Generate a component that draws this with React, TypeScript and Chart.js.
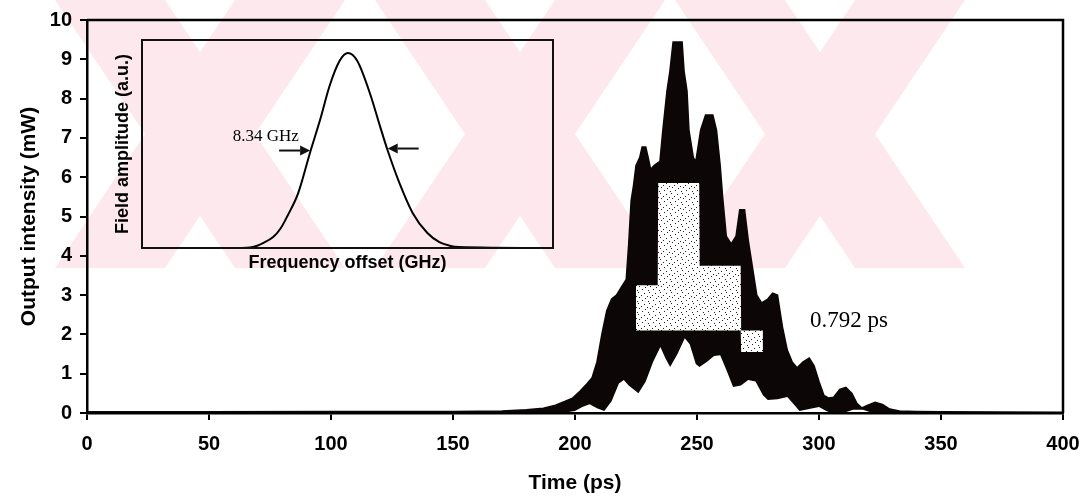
import React, { useEffect, useRef } from 'react';
import { Chart, registerables } from 'chart.js';

Chart.register(...registerables);

const SANS = "'Liberation Sans', Arial, Helvetica, sans-serif";
const SERIF = "'Liberation Serif', 'Times New Roman', serif";

// ---- main plot: upper envelope of the output intensity (black) ----
const upperTime = [0, 50, 100, 150, 170, 180, 187, 192, 196, 199, 202, 205, 207, 209, 211, 213, 215, 217, 219, 221, 222, 223, 224, 225, 226.5, 227.5, 229, 230, 231, 232.5, 234.8, 236, 237.7, 238.9, 240.2, 243.9, 244.7, 245.9, 246.7, 248.5, 249.5, 250.5, 251.5, 253.5, 256.5, 258, 259.5, 260.5, 262, 264, 266, 267.5, 269.5, 271, 272.5, 274.5, 276.5, 279, 281, 283, 285, 287, 289, 291, 293.5, 296, 298, 300, 302, 304, 306, 308.5, 311, 313.5, 315.5, 317.5, 320, 323, 326, 329, 333, 340, 350, 400];
const upperPower = [0.03, 0.03, 0.04, 0.04, 0.05, 0.08, 0.12, 0.2, 0.3, 0.38, 0.55, 0.75, 0.9, 1.3, 2.0, 2.6, 2.9, 3.0, 3.2, 3.4, 4.3, 5.4, 5.8, 6.3, 6.5, 6.77, 6.77, 6.5, 6.2, 6.3, 6.4, 7.2, 8.2, 8.7, 9.44, 9.44, 8.7, 8.2, 7.2, 6.5, 6.4, 6.8, 7.2, 7.58, 7.58, 7.2, 6.3, 5.5, 4.5, 4.3, 4.5, 5.17, 5.17, 4.4, 3.8, 3.0, 2.8, 2.9, 3.05, 3.0, 2.2, 1.6, 1.3, 1.15, 1.3, 1.4, 1.2, 0.8, 0.45, 0.38, 0.4, 0.6, 0.65, 0.5, 0.25, 0.13, 0.2, 0.27, 0.22, 0.1, 0.05, 0.04, 0.03, 0.02];

// ---- lower envelope (white region under the oscillations) ----
const lowerTime = [0, 195, 200, 203, 206, 209, 212, 215, 218, 220, 222, 226, 229, 232, 235, 237, 239, 242, 245, 247, 249.5, 251, 254, 257, 259.5, 262, 264.8, 268, 271, 274, 277, 279, 283, 287, 290, 292, 296, 300, 303, 305, 310, 314, 318, 322, 400];
const lowerPower = [0, 0, 0.05, 0.15, 0.22, 0.12, 0.05, 0.3, 0.75, 0.84, 0.7, 0.5, 0.8, 1.3, 1.68, 1.4, 1.17, 1.5, 1.9, 1.75, 1.25, 1.17, 1.3, 1.45, 1.47, 1.1, 0.66, 0.7, 0.84, 0.8, 0.45, 0.33, 0.35, 0.41, 0.2, 0.05, 0.1, 0.15, 0.05, 0, 0, 0.08, 0.08, 0, 0];

// ---- speckled (dense oscillation) band inside the pulse ----
const speckleTime = [225, 233.9, 234.1, 250.9, 251.1, 267.9, 268.1, 277];
const speckleTop = [3.25, 3.25, 5.85, 5.85, 3.75, 3.75, 2.1, 2.1];
const speckleBottom = [2.1, 2.1, 2.1, 2.1, 2.1, 2.1, 1.55, 1.55];

const xTickValues = [0, 50, 100, 150, 200, 250, 300, 350, 400];
const yTickValues = [0, 1, 2, 3, 4, 5, 6, 7, 8, 9, 10];

// ---- inset: field amplitude spectrum ----
const insetFreq = [-22.3, -12, -10.3, -9.2, -8.1, -7.3, -6.6, -5.4, -4.1, -3.0, -2.0, -0.9, 0, 1.0, 2.4, 3.5, 4.3, 5.6, 7.0, 8.6, 9.9, 11, 12, 22.2];
const insetAmp = [0, 0, 0.005, 0.025, 0.056, 0.1, 0.16, 0.28, 0.49, 0.66, 0.83, 0.96, 1.0, 0.96, 0.79, 0.62, 0.5, 0.33, 0.18, 0.077, 0.03, 0.012, 0.005, 0];
const fwhmEdges = [-4.1, 4.3];
const fwhmLevel = 0.5;
const fwhmLabel = '8.34 GHz';
const fwhmLabelPos = { x: -8.9, y: 0.57 };

const pulseLabel = '0.792 ps';
const pulseLabelPos = { x: 296.3, y: 2.19 };

function pts(xs: number[], ys: number[]) {
  return xs.map((x, i) => ({ x, y: ys[i] }));
}

function makeSpecklePattern(ctx: CanvasRenderingContext2D) {
  const c = document.createElement('canvas');
  c.width = 11;
  c.height = 11;
  const g = c.getContext('2d')!;
  g.fillStyle = '#ffffff';
  g.fillRect(0, 0, 11, 11);
  g.fillStyle = '#222';
  const dots = [[1, 0], [7, 1], [4, 3], [10, 4], [0, 6], [6, 7], [3, 9], [9, 10]];
  dots.forEach(([x, y]) => g.fillRect(x, y, 1, 1));
  return ctx.createPattern(c, 'repeat') as CanvasPattern;
}

const watermarkPlugin = {
  id: 'watermark',
  beforeDraw(chart: any) {
    const ctx = chart.ctx as CanvasRenderingContext2D;
    const H = 268;
    const run = 90;
    const w = 110;
    ctx.save();
    ctx.beginPath();
    ctx.rect(30, 0, 980, H);
    ctx.clip();
    ctx.fillStyle = '#fde9ed';
    [200, 520, 820].forEach((cx) => {
      ctx.beginPath();
      ctx.moveTo(cx - run - w / 2, 0);
      ctx.lineTo(cx - run + w / 2, 0);
      ctx.lineTo(cx + run + w / 2, H);
      ctx.lineTo(cx + run - w / 2, H);
      ctx.closePath();
      ctx.fill();
      ctx.beginPath();
      ctx.moveTo(cx + run - w / 2, 0);
      ctx.lineTo(cx + run + w / 2, 0);
      ctx.lineTo(cx - run + w / 2, H);
      ctx.lineTo(cx - run - w / 2, H);
      ctx.closePath();
      ctx.fill();
    });
    ctx.restore();
  },
};

const mainDecorPlugin = {
  id: 'mainDecor',
  afterDraw(chart: any) {
    const ctx = chart.ctx as CanvasRenderingContext2D;
    const { left, top, right, bottom } = chart.chartArea;
    ctx.save();
    ctx.strokeStyle = '#000';
    ctx.lineWidth = 2.5;
    ctx.beginPath();
    ctx.moveTo(left, top);
    ctx.lineTo(right, top);
    ctx.lineTo(right, bottom);
    ctx.stroke();
    const xs = chart.scales.x;
    const ys = chart.scales.y;
    ctx.fillStyle = '#000';
    ctx.font = `23px ${SERIF}`;
    ctx.textAlign = 'left';
    ctx.textBaseline = 'alphabetic';
    ctx.fillText(pulseLabel, xs.getPixelForValue(pulseLabelPos.x), ys.getPixelForValue(pulseLabelPos.y));
    ctx.restore();
  },
};

function arrow(ctx: CanvasRenderingContext2D, x0: number, x1: number, y: number) {
  const dir = x1 > x0 ? 1 : -1;
  const head = 10;
  ctx.beginPath();
  ctx.moveTo(x0, y);
  ctx.lineTo(x1 - dir * head, y);
  ctx.stroke();
  ctx.beginPath();
  ctx.moveTo(x1, y);
  ctx.lineTo(x1 - dir * head, y - 5);
  ctx.lineTo(x1 - dir * head, y + 5);
  ctx.closePath();
  ctx.fill();
}

const insetDecorPlugin = {
  id: 'insetDecor',
  afterDraw(chart: any) {
    const ctx = chart.ctx as CanvasRenderingContext2D;
    const { left, top, width, height } = chart.chartArea;
    const xs = chart.scales.x;
    const ys = chart.scales.y;
    ctx.save();
    ctx.strokeStyle = '#111';
    ctx.lineWidth = 2;
    ctx.strokeRect(left, top, width, height);
    ctx.fillStyle = '#111';
    const yA = ys.getPixelForValue(fwhmLevel);
    const lTip = xs.getPixelForValue(fwhmEdges[0]);
    const rTip = xs.getPixelForValue(fwhmEdges[1]);
    arrow(ctx, lTip - 31, lTip, yA);
    arrow(ctx, rTip + 31, rTip, yA - 2);
    ctx.fillStyle = '#000';
    ctx.font = `17px ${SERIF}`;
    ctx.textAlign = 'center';
    ctx.textBaseline = 'middle';
    ctx.fillText(fwhmLabel, xs.getPixelForValue(fwhmLabelPos.x), ys.getPixelForValue(fwhmLabelPos.y));
    ctx.restore();
  },
};

export default function App() {
  const mainRef = useRef<HTMLCanvasElement>(null);
  const insetRef = useRef<HTMLCanvasElement>(null);

  useEffect(() => {
    const mainCtx = mainRef.current!.getContext('2d')!;
    const pattern = makeSpecklePattern(mainCtx);
    const tickFont = { family: SANS, size: 20, weight: 'bold' as const };
    const titleFont = { family: SANS, size: 21, weight: 'bold' as const };

    const main = new Chart(mainCtx, {
      type: 'line',
      data: {
        datasets: [
          {
            data: pts(speckleTime, speckleTop),
            borderWidth: 0,
            borderColor: 'rgba(0,0,0,0)',
            backgroundColor: pattern,
            fill: '+1',
            pointRadius: 0,
          },
          {
            data: pts(speckleTime, speckleBottom),
            borderWidth: 0,
            borderColor: 'rgba(0,0,0,0)',
            fill: false,
            pointRadius: 0,
          },
          {
            data: pts(lowerTime, lowerPower),
            borderWidth: 0,
            borderColor: 'rgba(0,0,0,0)',
            backgroundColor: '#ffffff',
            fill: 'origin',
            pointRadius: 0,
          },
          {
            data: pts(upperTime, upperPower),
            borderWidth: 1.5,
            borderColor: '#0d0606',
            backgroundColor: '#0d0606',
            fill: 'origin',
            pointRadius: 0,
          },
        ],
      },
      options: {
        responsive: false,
        animation: false,
        events: [],
        layout: { padding: { left: 0, right: 27, top: 20, bottom: 0 } },
        elements: { line: { tension: 0 } },
        plugins: {
          legend: { display: false },
          tooltip: { enabled: false },
          filler: { propagate: false },
        },
        scales: {
          x: {
            type: 'linear',
            min: 0,
            max: 400,
            afterBuildTicks: (s: any) => {
              s.ticks = xTickValues.map((v) => ({ value: v }));
            },
            afterFit: (s: any) => {
              s.height = 84;
              s.paddingLeft = 0;
              s.paddingRight = 0;
            },
            ticks: { font: tickFont, color: '#000', padding: 12, maxRotation: 0, autoSkip: false },
            grid: { display: true, drawOnChartArea: false, drawTicks: true, tickLength: 7, color: '#000', lineWidth: 2 },
            border: { display: true, color: '#000', width: 2.5, z: 1 },
            title: { display: true, text: 'Time (ps)', font: titleFont, color: '#000', padding: { top: 0, bottom: 1 } },
          },
          y: {
            type: 'linear',
            min: 0,
            max: 10,
            afterBuildTicks: (s: any) => {
              s.ticks = yTickValues.map((v) => ({ value: v }));
            },
            afterFit: (s: any) => {
              s.width = 87;
              s.paddingTop = 0;
              s.paddingBottom = 0;
            },
            ticks: { font: tickFont, color: '#000', padding: 8, autoSkip: false },
            grid: { display: true, drawOnChartArea: false, drawTicks: true, tickLength: 7, color: '#000', lineWidth: 2 },
            border: { display: true, color: '#000', width: 2.5, z: 1 },
            title: { display: true, text: 'Output intensity (mW)', font: titleFont, color: '#000', padding: { top: 17, bottom: 0 } },
          },
        },
      },
      plugins: [watermarkPlugin, mainDecorPlugin],
    } as any);

    const insetTitleFont = { family: SANS, size: 18, weight: 'bold' as const };
    const inset = new Chart(insetRef.current!, {
      type: 'line',
      data: {
        datasets: [
          {
            data: pts(insetFreq, insetAmp),
            borderColor: '#000',
            borderWidth: 2,
            pointRadius: 0,
            fill: false,
            cubicInterpolationMode: 'monotone',
          },
        ],
      },
      options: {
        responsive: false,
        animation: false,
        events: [],
        layout: { padding: { left: 0, right: 17, top: 10, bottom: 0 } },
        plugins: { legend: { display: false }, tooltip: { enabled: false } },
        scales: {
          x: {
            type: 'linear',
            min: -22.3,
            max: 22.2,
            ticks: { display: false },
            grid: { display: false },
            border: { display: false },
            afterFit: (s: any) => {
              s.height = 32;
              s.paddingLeft = 0;
              s.paddingRight = 0;
            },
            title: { display: true, text: 'Frequency offset (GHz)', font: insetTitleFont, color: '#000', padding: { top: 0, bottom: 6 } },
          },
          y: {
            type: 'linear',
            min: 0,
            max: 1.067,
            ticks: { display: false },
            grid: { display: false },
            border: { display: false },
            afterFit: (s: any) => {
              s.width = 42;
              s.paddingTop = 0;
              s.paddingBottom = 0;
            },
            title: { display: true, text: 'Field amplitude (a.u.)', font: insetTitleFont, color: '#000', padding: { top: 12, bottom: 0 } },
          },
        },
      },
      plugins: [insetDecorPlugin],
    } as any);

    return () => {
      main.destroy();
      inset.destroy();
    };
  }, []);

  return (
    <div style={{ position: 'fixed', left: 0, top: 0, width: 1090, height: 497, background: '#fff' }}>
      <canvas ref={mainRef} width={1090} height={497} style={{ position: 'absolute', left: 0, top: 0, width: 1090, height: 497 }} />
      <canvas ref={insetRef} width={470} height={250} style={{ position: 'absolute', left: 100, top: 30, width: 470, height: 250 }} />
    </div>
  );
}
